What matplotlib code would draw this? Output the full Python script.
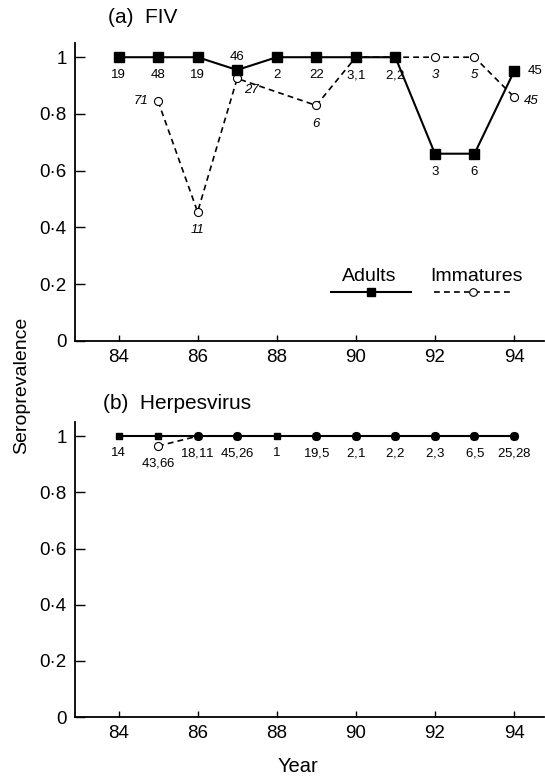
import matplotlib.pyplot as plt
from matplotlib.ticker import FixedLocator

plt.rcParams["font.family"] = ["Liberation Sans", "DejaVu Sans"]
plt.rcParams["mathtext.fontset"] = "custom"
plt.rcParams["mathtext.rm"] = "Liberation Sans"
plt.rcParams["mathtext.it"] = "Liberation Sans:italic"

# ---- data: panel (a) FIV ----
fiv_adult_years = [84, 85, 86, 87, 88, 89, 90, 91, 92, 93, 94]
fiv_adult_prev = [1.0, 1.0, 1.0, 0.955, 1.0, 1.0, 1.0, 1.0, 0.66, 0.66, 0.95]
fiv_adult_n = [19, 48, 19, 46, 2, 22, 3, 2, 3, 6, 45]
fiv_imm_years = [85, 86, 87, 89, 90, 91, 92, 93, 94]
fiv_imm_prev = [0.845, 0.455, 0.925, 0.83, 1.0, 1.0, 1.0, 1.0, 0.86]
fiv_imm_n = [71, 11, 27, 6, 1, 2, 3, 5, 45]

# ---- data: panel (b) Herpesvirus ----
hv_adult_years = [84, 85, 86, 87, 88, 89, 90, 91, 92, 93, 94]
hv_adult_prev = [1.0, 1.0, 1.0, 1.0, 1.0, 1.0, 1.0, 1.0, 1.0, 1.0, 1.0]
hv_adult_n = [14, 43, 18, 45, 1, 19, 2, 2, 2, 6, 25]
hv_imm_years = [85, 86, 87, 89, 90, 91, 92, 93, 94]
hv_imm_prev = [0.965, 1.0, 1.0, 1.0, 1.0, 1.0, 1.0, 1.0, 1.0]
hv_imm_n = [66, 11, 26, 5, 1, 2, 3, 5, 28]

yticks = [0, 0.2, 0.4, 0.6, 0.8, 1.0]
ytick_labels = ["0", "0\u00b72", "0\u00b74", "0\u00b76", "0\u00b78", "1"]
xticks = [84, 86, 88, 90, 92, 94]

fig = plt.figure(figsize=(5.45, 7.78), dpi=100)
ax_a = fig.add_axes([0.1376, 0.5617, 0.86, 0.383])
ax_b = fig.add_axes([0.1376, 0.0784, 0.86, 0.379])

adult_style = dict(color="black", lw=1.5, marker="s", ms=6.5, mfc="black", mec="black", zorder=3)
imm_style = dict(color="black", lw=1.2, ls=(0, (3.5, 2.5)), marker="o", ms=5.8,
                 mfc="white", mec="black", mew=0.8, zorder=2)

for ax in (ax_a, ax_b):
    ax.set_xlim(82.9, 94.75)
    ax.set_ylim(0, 1.05)
    ax.spines["top"].set_visible(False)
    ax.spines["right"].set_visible(False)
    ax.spines["left"].set_linewidth(1.3)
    ax.spines["bottom"].set_linewidth(1.3)
    ax.yaxis.set_major_locator(FixedLocator(yticks))
    ax.set_yticklabels(ytick_labels)
    ax.set_xticks(xticks)
    ax.tick_params(axis="y", direction="in", length=7, width=1, labelsize=13.5, pad=6)
    ax.tick_params(axis="x", direction="in", length=4, width=1, labelsize=13.5, pad=6)

# ---- panel (a) ----
ax_a.plot(fiv_imm_years, fiv_imm_prev, **imm_style)
ax_a.plot(fiv_adult_years, fiv_adult_prev, **adult_style)

lab = dict(fontsize=9.5, textcoords="offset points", ha="center", va="center")
imm_lookup = dict(zip(fiv_imm_years, zip(fiv_imm_prev, fiv_imm_n)))
adult_offsets = {87: (0, 9.5, "center"), 94: (10, 0, "left")}
for yr, p, n in zip(fiv_adult_years, fiv_adult_prev, fiv_adult_n):
    txt = str(n)
    if yr in imm_lookup and imm_lookup[yr][0] == p:
        txt = f"{n},$\\mathit{{{imm_lookup[yr][1]}}}$"
    dx, dy, ha = adult_offsets.get(yr, (0, -13, "center"))
    ax_a.annotate(txt, (yr, p), xytext=(dx, dy), **{**lab, "ha": ha})

adult_lookup = dict(zip(fiv_adult_years, fiv_adult_prev))
imm_offsets = {85: (-7, 0, "right"), 87: (5, -8, "left"), 94: (7, -3, "left")}
for yr, p, n in zip(fiv_imm_years, fiv_imm_prev, fiv_imm_n):
    if adult_lookup.get(yr) == p and yr in (90, 91):
        continue
    dx, dy, ha = imm_offsets.get(yr, (0, -13, "center"))
    ax_a.annotate(str(n), (yr, p), xytext=(dx, dy), style="italic", **{**lab, "ha": ha})

# legend drawn as in the original: labels above the keys
ax_a.plot([0.547, 0.717], [0.164, 0.164], transform=ax_a.transAxes, color="black", lw=1.5, clip_on=False)
ax_a.plot([0.632], [0.164], transform=ax_a.transAxes, color="black", marker="s", ms=6, clip_on=False)
ax_a.plot([0.766, 0.932], [0.164, 0.164], transform=ax_a.transAxes, color="black", lw=1.2,
          ls=(0, (3.5, 2.5)), clip_on=False)
ax_a.plot([0.849], [0.164], transform=ax_a.transAxes, color="black", marker="o", ms=5.5,
          mfc="white", mew=0.8, clip_on=False)
ax_a.text(0.628, 0.215, "Adults", transform=ax_a.transAxes, ha="center", va="center", fontsize=14)
ax_a.text(0.857, 0.215, "Immatures", transform=ax_a.transAxes, ha="center", va="center", fontsize=14)

# ---- panel (b) ----
ax_b.plot(hv_imm_years, hv_imm_prev, **imm_style)
ax_b.plot(hv_adult_years, hv_adult_prev, **{**adult_style, "ms": 5})

hv_imm_lookup = dict(zip(hv_imm_years, zip(hv_imm_prev, hv_imm_n)))
for yr, p, n in zip(hv_adult_years, hv_adult_prev, hv_adult_n):
    txt = str(n)
    y = p
    if yr in hv_imm_lookup:
        txt = f"{n},$\\mathit{{{hv_imm_lookup[yr][1]}}}$"
        y = min(p, hv_imm_lookup[yr][0])
    ax_b.annotate(txt, (yr, y), xytext=(0, -12), **lab)

# ---- titles and axis labels ----
fig.text(0.198, 0.977, "(a)  FIV", fontsize=15, ha="left", va="center")
fig.text(0.189, 0.482, "(b)  Herpesvirus", fontsize=15, ha="left", va="center")
fig.text(0.039, 0.505, "Seroprevalence", fontsize=14, rotation=90, ha="center", va="center")
fig.text(0.547, 0.015, "Year", fontsize=14.5, ha="center", va="center")

fig.savefig("out.png", dpi=100)
